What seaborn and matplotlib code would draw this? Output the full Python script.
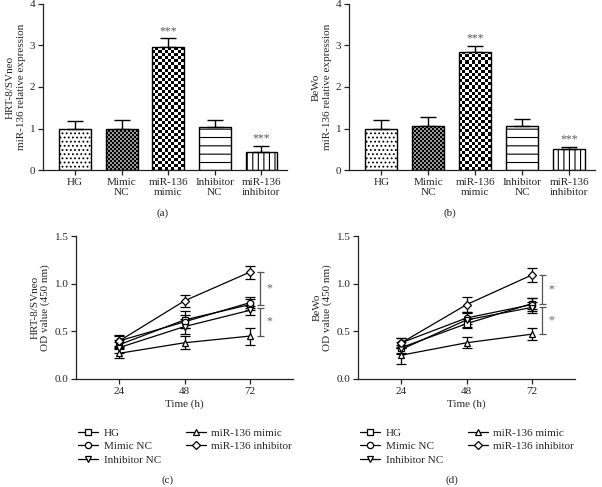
import numpy as np
import pandas as pd
import matplotlib
matplotlib.use('Agg')
import matplotlib.pyplot as plt
import seaborn as sns

# ---- data ----
bar_cats = ['HG', 'Mimic\nNC', 'miR-136\nmimic', 'Inhibitor\nNC', 'miR-136\ninhibitor']
a_mean = [1.00, 0.99, 2.96, 1.04, 0.43]
a_err = [0.19, 0.21, 0.21, 0.16, 0.16]
a_sig = ['', '', '***', '', '***']
b_mean = [1.00, 1.06, 2.85, 1.06, 0.50]
b_err = [0.20, 0.21, 0.14, 0.16, 0.06]
b_sig = ['', '', '***', '', '***']

hours = [24, 48, 72]
groups = ['HG', 'Mimic NC', 'Inhibitor NC', 'miR-136 mimic', 'miR-136 inhibitor']
group_markers = ['s', 'o', 'v', '^', 'D']

c_hg = [0.36, 0.62, 0.78]
c_mimic_nc = [0.40, 0.60, 0.80]
c_inhib_nc = [0.33, 0.55, 0.72]
c_mimic = [0.27, 0.38, 0.45]
c_inhib = [0.40, 0.82, 1.12]
c_hg_err = [0.05, 0.09, 0.06]
c_mimic_nc_err = [0.05, 0.07, 0.06]
c_inhib_nc_err = [0.06, 0.08, 0.05]
c_mimic_err = [0.05, 0.07, 0.09]
c_inhib_err = [0.06, 0.06, 0.07]
c_brackets = [(1.12, 0.78), (0.75, 0.45)]

d_hg = [0.33, 0.58, 0.79]
d_mimic_nc = [0.38, 0.64, 0.78]
d_inhib_nc = [0.31, 0.62, 0.75]
d_mimic = [0.25, 0.38, 0.47]
d_inhib = [0.38, 0.78, 1.09]
d_hg_err = [0.06, 0.05, 0.06]
d_mimic_nc_err = [0.05, 0.06, 0.07]
d_inhib_nc_err = [0.05, 0.07, 0.06]
d_mimic_err = [0.09, 0.06, 0.06]
d_inhib_err = [0.05, 0.08, 0.07]
d_brackets = [(1.09, 0.79), (0.76, 0.47)]

FS = 8

sns.set_style('ticks')
plt.rcParams['font.family'] = ['Liberation Serif', 'DejaVu Serif']
plt.rcParams['font.size'] = FS
plt.rcParams['hatch.linewidth'] = 0.8

W, H = 602, 487
fig = plt.figure(figsize=(W / 100, H / 100), dpi=100)


def px_axes(left, top, right, bottom):
    return fig.add_axes([left / W, 1 - bottom / H, (right - left) / W, (bottom - top) / H])


def style_axes(ax):
    sns.despine(ax=ax)
    for s in ['left', 'bottom']:
        ax.spines[s].set_linewidth(0.9)
        ax.spines[s].set_color('#222222')
    ax.tick_params(length=3.5, width=0.9, color='#222222', labelsize=FS, pad=2)


def pattern_fill(ax, patch, img_fn, cell_px):
    x0, y0 = patch.get_x(), patch.get_y()
    w, h = patch.get_width(), patch.get_height()
    p0 = ax.transData.transform((x0, y0))
    p1 = ax.transData.transform((x0 + w, y0 + h))
    nx = max(1, int(round((p1[0] - p0[0]) / cell_px)))
    ny = max(1, int(round((p1[1] - p0[1]) / cell_px)))
    ii, jj = np.indices((ny, nx))
    img = img_fn(ii, jj)
    im = ax.imshow(img, cmap='gray', vmin=0, vmax=1, extent=(x0, x0 + w, y0, y0 + h),
                   aspect='auto', interpolation='nearest', origin='lower', zorder=1.5)
    im.set_clip_path(patch)
    patch.set_facecolor('none')
    patch.set_zorder(2.5)


def bar_panel(rect, means, errs, sigs, ylabel, caption, cap_x):
    ax = px_axes(*rect)
    sns.barplot(x=bar_cats, y=means, ax=ax, color='white', edgecolor='black',
                linewidth=1.0, width=0.68, saturation=1)
    ax.set_xlim(-0.69, 4.55)
    ax.set_ylim(0, 4)
    ax.set_yticks([0, 1, 2, 3, 4])
    patches = ax.patches
    patches[0].set_hatch('....')
    patches[3].set_hatch('--')
    patches[4].set_hatch('|||')
    # fine dark check for Mimic NC, coarse checkerboard for the mimic
    pattern_fill(ax, patches[1], lambda i, j: ((i + j) % 2) * 0.6, 2.0)
    pattern_fill(ax, patches[2], lambda i, j: ((i + j) % 2) * 1.0, 3.1)
    ax.set_xlim(-0.69, 4.55)
    ax.set_ylim(0, 4)
    x = np.arange(len(means))
    ax.errorbar(x, means, yerr=[np.zeros(len(errs)), errs], fmt='none', ecolor='black',
                elinewidth=1.0, capsize=5.5, capthick=1.0, zorder=1)
    for xi, m, e, s in zip(x, means, errs, sigs):
        if s:
            ax.text(xi, m + e + 0.03, s, ha='center', va='bottom', fontsize=8.5, color='#5a5a5a')
    style_axes(ax)
    ax.set_xlabel('')
    ax.set_ylabel(ylabel, fontsize=FS, linespacing=1.2, labelpad=3)
    fig.text(cap_x / W, 1 - 213 / H, caption, ha='center', va='center', fontsize=FS)
    return ax


def line_panel(rect, series, errors, brackets, ylabel, caption, cap_x):
    ax = px_axes(*rect)
    rows = []
    for g, vals in zip(groups, series):
        for t, v in zip(hours, vals):
            rows.append({'time': t, 'od': v, 'group': g})
    df = pd.DataFrame(rows)
    sns.lineplot(data=df, x='time', y='od', style='group', style_order=groups,
                 markers=dict(zip(groups, group_markers)), dashes=False, color='black',
                 linewidth=0.9, markersize=4.5, markerfacecolor='white',
                 markeredgecolor='black', markeredgewidth=0.9, legend=False, ax=ax, zorder=3)
    handles = list(ax.get_lines()[:len(groups)])
    for vals, errs in zip(series, errors):
        ax.errorbar(hours, vals, yerr=errs, fmt='none', ecolor='black', elinewidth=0.9,
                    capsize=3.5, capthick=0.9, zorder=2)
    bx = 76
    for top, bot in brackets:
        ax.vlines(bx, bot, top, color='#555555', lw=0.9)
        ax.hlines([top, bot], bx - 1.3, bx + 1.3, color='#555555', lw=0.9)
        ax.text(bx + 2.2, (top + bot) / 2, '*', ha='left', va='center', fontsize=8.5, color='#666666')
    ax.set_xlim(8, 88)
    ax.set_ylim(0, 1.5)
    ax.set_xticks(hours)
    ax.set_yticks([0, 0.5, 1.0, 1.5])
    ax.set_yticklabels(['0.0', '0.5', '1.0', '1.5'])
    style_axes(ax)
    ax.set_xlabel('Time (h)', fontsize=FS, labelpad=3)
    ax.set_ylabel(ylabel, fontsize=FS, linespacing=1.2, labelpad=3)
    ax.legend(handles, groups, ncol=2, frameon=False, fontsize=FS, loc='upper left',
              bbox_to_anchor=(-0.01, -0.31), handlelength=1.8, handletextpad=0.5,
              columnspacing=2.2, labelspacing=0.35, borderaxespad=0)
    fig.text(cap_x / W, 1 - 480 / H, caption, ha='center', va='center', fontsize=FS)
    return ax


bar_panel((43, 4, 287, 170), a_mean, a_err, a_sig,
          'HRT-8/SVneo\nmiR-136 relative expression', '(a)', 163)
bar_panel((349, 4, 595, 170), b_mean, b_err, b_sig,
          'BeWo\nmiR-136 relative expression', '(b)', 450)

line_panel((76, 236, 293, 379),
           [c_hg, c_mimic_nc, c_inhib_nc, c_mimic, c_inhib],
           [c_hg_err, c_mimic_nc_err, c_inhib_nc_err, c_mimic_err, c_inhib_err],
           c_brackets, 'HRT-8/SVneo\nOD value (450 nm)', '(c)', 168)
line_panel((358, 236, 575, 379),
           [d_hg, d_mimic_nc, d_inhib_nc, d_mimic, d_inhib],
           [d_hg_err, d_mimic_nc_err, d_inhib_nc_err, d_mimic_err, d_inhib_err],
           d_brackets, 'BeWo\nOD value (450 nm)', '(d)', 452)

fig.savefig('out.png', dpi=100)
